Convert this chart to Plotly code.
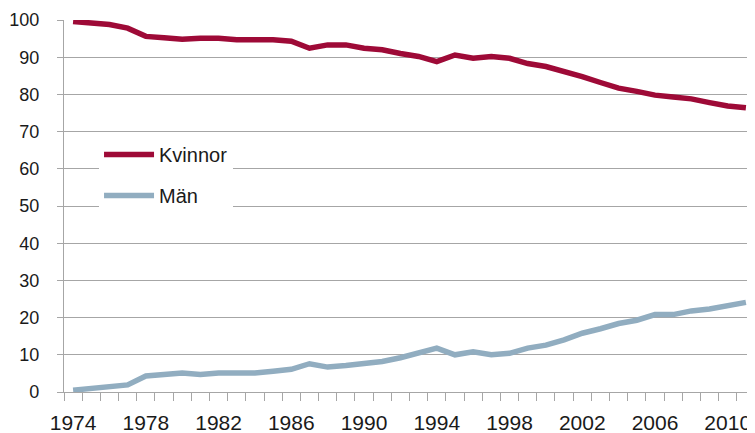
import plotly.graph_objects as go

years = list(range(1974, 2012))
kvinnor = [99.6, 99.2, 98.8, 97.8, 95.6, 95.2, 94.8, 95.1, 95.1, 94.7, 94.7, 94.7, 94.3,
           92.4, 93.3, 93.3, 92.4, 92.0, 91.0, 90.2, 88.8, 90.6, 89.7, 90.2, 89.7, 88.3,
           87.5, 86.2, 84.8, 83.2, 81.7, 80.8, 79.8, 79.3, 78.8, 77.8, 76.9, 76.4]
man = [0.5, 0.9, 1.4, 1.9, 4.3, 4.7, 5.1, 4.7, 5.1, 5.1, 5.1, 5.6, 6.1,
       7.6, 6.7, 7.1, 7.6, 8.2, 9.2, 10.5, 11.8, 10.0, 10.8, 10.0, 10.4, 11.8,
       12.6, 14.0, 15.8, 17.0, 18.4, 19.3, 20.8, 20.8, 21.8, 22.3, 23.2, 24.1]
x_labels = [str(y) for y in range(1974, 2012, 4)]
y_ticks = list(range(0, 101, 10))

family = "Liberation Sans, Arial, sans-serif"
txt = "#1a1a1a"
grid = "#a6a6a6"

fig = go.Figure()
fig.add_trace(go.Scatter(x=years, y=kvinnor, mode="lines", name="Kvinnor",
                         legendgroup="k",
                         line=dict(color="#9E0A37", width=5.5)))
fig.add_trace(go.Scatter(x=years, y=man, mode="lines", name="Män",
                         legendgroup="m",
                         line=dict(color="#91ADC0", width=5.5)))

fig.update_layout(
    width=747, height=425,
    margin=dict(l=56, r=0, t=12, b=41, autoexpand=False),
    paper_bgcolor="white", plot_bgcolor="white",
    font=dict(family=family, size=19, color=txt),
    showlegend=True,
    legend=dict(x=0.0507, y=0.691, xanchor="left", yanchor="top",
                bgcolor="white", font=dict(family=family, size=20, color=txt),
                tracegroupgap=12, itemwidth=50, traceorder="grouped"),
    xaxis=dict(range=[1973.5, 2011.5], tickmode="array", automargin=False,
               tickvals=list(range(1974, 2012, 4)), ticktext=x_labels,
               tickfont=dict(family=family, size=21, color=txt),
               ticks="", showgrid=False, zeroline=False,
               showline=True, linecolor=grid, linewidth=1.3,
               minor=dict(ticks="outside", tick0=1973.5, dtick=1, ticklen=8,
                          tickcolor=grid, tickwidth=1.3, showgrid=False),
               ticklabelstandoff=12),
    yaxis=dict(range=[0, 100], tickmode="array", tickvals=y_ticks, automargin=False,
               tickfont=dict(family=family, size=18, color=txt),
               showgrid=True, gridcolor=grid, gridwidth=1.3,
               zeroline=False, showline=True, linecolor=grid, linewidth=1.3,
               ticks="outside", ticklen=6, tickcolor=grid, tickwidth=1.3,
               ticklabelstandoff=14),
)

fig.write_html("out.html")
